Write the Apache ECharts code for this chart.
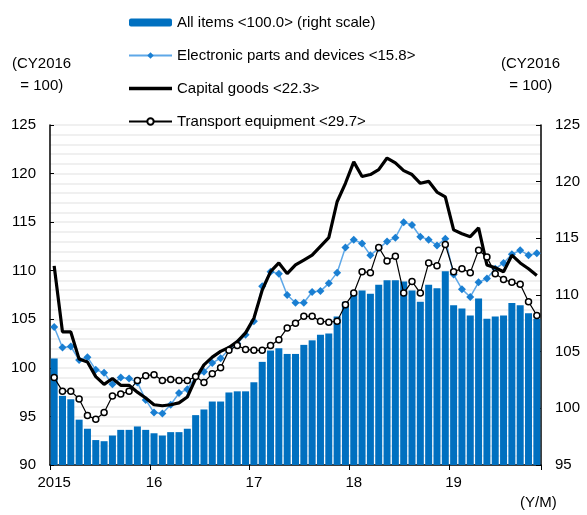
<!DOCTYPE html>
<html>
<head>
<meta charset="utf-8">
<script src="https://cdn.jsdelivr.net/npm/echarts@6/dist/echarts.min.js"></script>
<style>
  html, body { margin: 0; padding: 0; background: #fff; }
  #chart { width: 587px; height: 515px; }
</style>
</head>
<body>
<div id="chart"></div>
<script>
// monthly, Jan 2015 .. Nov 2019
var yearLabels = { 0: '2015', 12: '16', 24: '17', 36: '18', 48: '19' };
var months = [];
for (var i = 0; i < 59; i++) months.push(String(i));

// All items (right scale)
var allItems = [
  104.4, 101.1, 100.8, 99.0, 98.2, 97.2, 97.1, 97.6, 98.1, 98.1, 98.4, 98.1,
  97.8, 97.6, 97.9, 97.9, 98.2, 99.4, 99.9, 100.6, 100.6, 101.4, 101.5, 101.5,
  102.3, 104.1, 105.1, 105.3, 104.8, 104.8, 105.6, 106.0, 106.5, 106.6, 108.1, 109.4,
  110.1, 110.4, 110.1, 110.9, 111.3, 111.3, 111.2, 110.4, 109.4, 110.9, 110.6, 112.1,
  109.1, 108.8, 108.2, 109.7, 107.9, 108.1, 108.2, 109.3, 109.1, 108.4, 107.9
];

// Electronic parts and devices (left scale)
var electronic = [
  104.2, 102.1, 102.2, 100.8, 101.1, 99.8, 99.5, 98.3, 99.0, 98.9, 98.5, 96.7,
  95.4, 95.3, 96.2, 97.4, 97.8, 99.1, 99.6, 100.5, 101.0, 101.9, 102.5, 103.4,
  104.8, 108.4, 109.9, 109.7, 107.5, 106.7, 106.7, 107.8, 107.9, 108.7, 109.8, 112.4,
  113.2, 112.8, 111.6, 112.3, 113.0, 113.4, 115.0, 114.7, 113.5, 113.2, 112.6, 113.3,
  109.6, 108.1, 107.3, 108.8, 109.2, 110.2, 110.8, 111.7, 112.1, 111.6, 111.8
];

// Capital goods (left scale)
var capital = [
  110.5, 103.7, 103.7, 100.9, 100.6, 99.1, 98.3, 98.9, 98.2, 98.2, 97.5, 96.9,
  96.2, 96.1, 96.2, 96.4, 97.0, 98.9, 100.3, 101.1, 101.7, 102.1, 102.7, 103.6,
  105.1, 108.0, 109.9, 110.8, 109.7, 110.6, 111.1, 111.6, 112.5, 113.4, 117.1, 119.0,
  121.2, 119.7, 119.9, 120.4, 121.6, 121.1, 120.3, 119.9, 119.0, 119.2, 118.1, 117.6,
  114.2, 113.8, 113.5, 114.4, 110.6, 110.3, 109.9, 111.6, 110.8, 110.2, 109.5
];

// Transport equipment (left scale)
var transport = [
  99.0, 97.6, 97.6, 96.8, 95.1, 94.7, 95.4, 97.1, 97.3, 97.6, 98.7, 99.2,
  99.3, 98.7, 98.8, 98.7, 98.7, 99.1, 98.5, 99.4, 100.0, 101.8, 102.3, 101.9,
  101.8, 101.8, 102.3, 102.9, 104.1, 104.6, 105.3, 105.3, 104.8, 104.7, 104.8, 106.5,
  107.7, 109.9, 109.8, 112.4, 111.0, 111.5, 107.7, 108.9, 107.7, 110.8, 110.5, 112.7,
  109.9, 110.2, 109.8, 112.1, 111.4, 109.7, 109.1, 108.8, 108.6, 106.8, 105.4
];

var font = 'Liberation Sans, Arial, sans-serif';
var chart = echarts.init(document.getElementById('chart'));

var option = {
  animation: false,
  textStyle: { fontFamily: font },
  grid: { left: 50, right: 46, top: 125, bottom: 50 },
  legend: {
    orient: 'vertical',
    left: 123,
    top: 10,
    itemWidth: 43,
    itemHeight: 8,
    itemGap: 18,
    textStyle: { fontSize: 15, color: '#000', fontFamily: font },
    data: [
      'All items <100.0> (right scale)',
      'Electronic parts and devices <15.8>',
      { name: 'Capital goods <22.3>', icon: 'path://M0,0L43,0L43,3.4L0,3.4Z', itemStyle: { color: '#000' } },
      'Transport equipment <29.7>'
    ]
  },
  graphic: [
    { type: 'text', left: 12, top: 53, style: { text: '(CY2016\n  = 100)', font: '15px ' + font, fill: '#000', lineHeight: 22 } },
    { type: 'text', left: 501, top: 53, style: { text: '(CY2016\n  = 100)', font: '15px ' + font, fill: '#000', lineHeight: 22 } },
    { type: 'text', left: 520, top: 495, style: { text: '(Y/M)', font: '15px ' + font, fill: '#000' } }
  ],
  xAxis: {
    type: 'category',
    data: months,
    boundaryGap: true,
    axisLine: { lineStyle: { color: '#000', width: 1.5 } },
    axisTick: {
      show: true,
      length: 5,
      lineStyle: { color: '#000' },
      interval: function (idx) { return idx % 12 === 0; }
    },
    axisLabel: {
      interval: function (idx) { return idx % 12 === 0; },
      formatter: function (v, idx) { return yearLabels[idx] || ''; },
      fontSize: 15,
      color: '#000',
      margin: 10
    },
    splitLine: { show: false }
  },
  yAxis: [
    {
      type: 'value',
      min: 90, max: 125, interval: 5,
      position: 'left',
      axisLine: { show: true, lineStyle: { color: '#000', width: 1.5 } },
      axisTick: { show: true, inside: true, length: 4, lineStyle: { color: '#000' } },
      axisLabel: { fontSize: 15, color: '#000', margin: 14 },
      splitLine: { show: true, lineStyle: { color: '#ebebeb', width: 1.5 } },
      minorTick: { show: false, splitNumber: 5 },
      minorSplitLine: { show: true, lineStyle: { color: '#ebebeb', width: 1.5 } }
    },
    {
      type: 'value',
      min: 95, max: 125, interval: 5,
      position: 'right',
      axisLine: { show: true, lineStyle: { color: '#000', width: 1.5 } },
      axisTick: { show: true, inside: true, length: 5, lineStyle: { color: '#000' } },
      axisLabel: { fontSize: 15, color: '#000', margin: 14 },
      splitLine: { show: false }
    }
  ],
  series: [
    {
      name: 'All items <100.0> (right scale)',
      type: 'bar',
      yAxisIndex: 1,
      data: allItems,
      barCategoryGap: '16%',
      itemStyle: { color: '#0070c0' },
      z: 1
    },
    {
      name: 'Electronic parts and devices <15.8>',
      type: 'line',
      data: electronic,
      symbol: 'diamond',
      symbolSize: 8,
      showAllSymbol: true,
      lineStyle: { color: '#5ea8e8', width: 1.5 },
      itemStyle: { color: '#1a7fd2' },
      z: 3
    },
    {
      name: 'Capital goods <22.3>',
      type: 'line',
      data: capital,
      symbol: 'none',
      lineStyle: { color: '#000', width: 3.2 },
      itemStyle: { color: '#000' },
      z: 4
    },
    {
      name: 'Transport equipment <29.7>',
      type: 'line',
      data: transport,
      symbol: 'circle',
      symbolSize: 6,
      showAllSymbol: true,
      lineStyle: { color: '#000', width: 1.2 },
      itemStyle: { color: '#fff', borderColor: '#000', borderWidth: 1.5 },
      z: 5
    }
  ]
};

chart.setOption(option);
</script>
</body>
</html>
